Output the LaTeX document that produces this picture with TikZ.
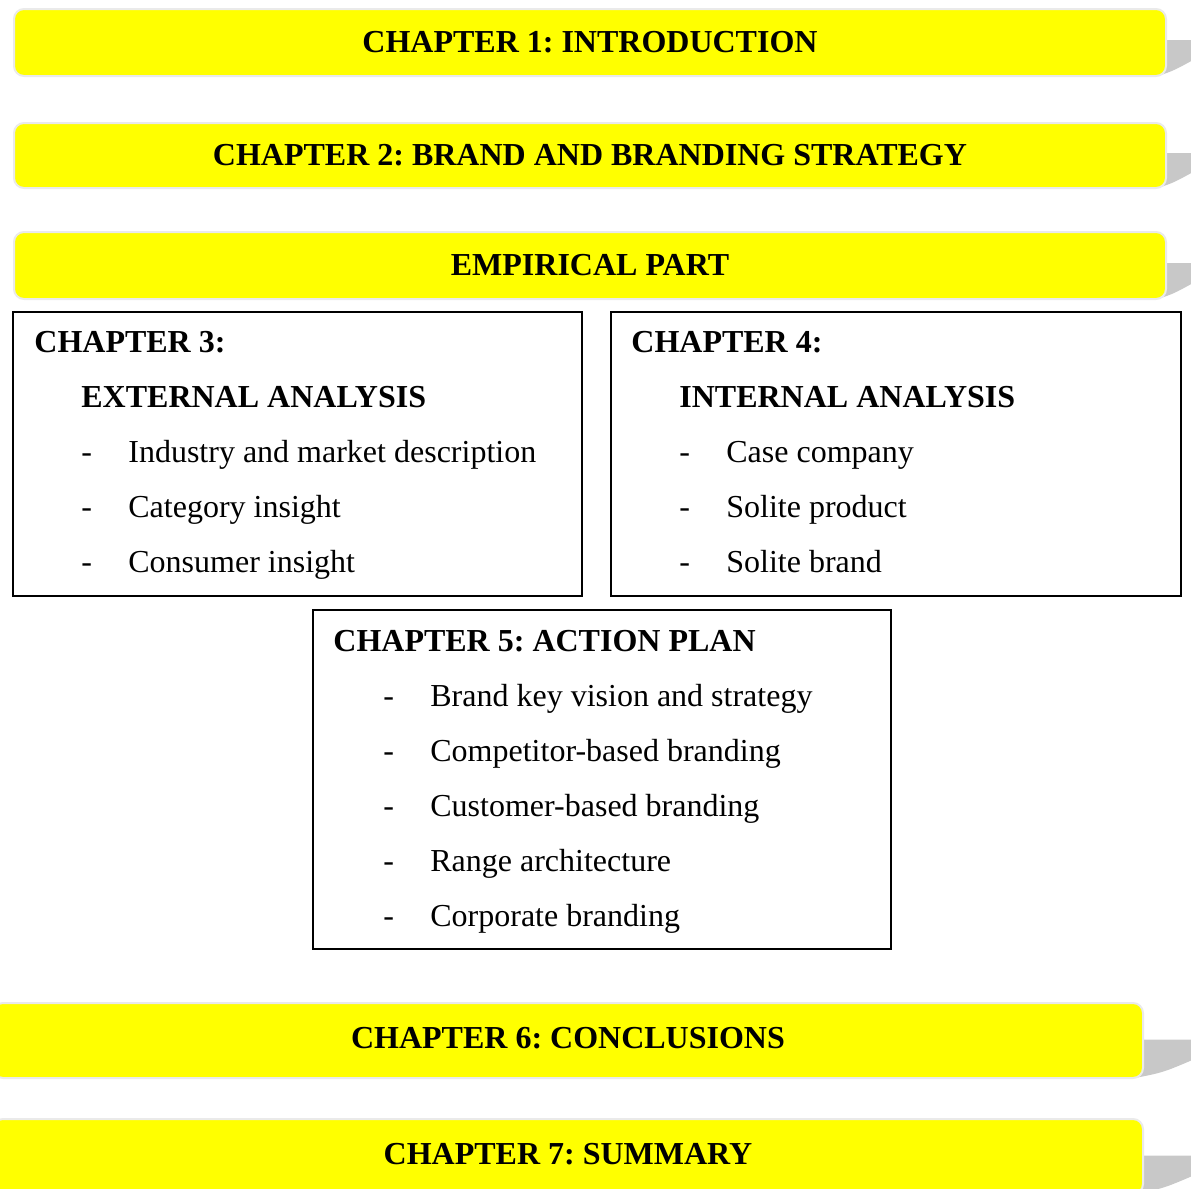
\documentclass[tikz,border=0pt]{standalone}
\usepackage{fontspec}
\setmainfont{Liberation Serif}
\usepackage{xcolor}
\usetikzlibrary{positioning, backgrounds}

\definecolor{bannerfill}{RGB}{255,255,0}
\definecolor{bannerrim}{RGB}{234,234,234}
\definecolor{curlgrey}{RGB}{200,200,200}

\frenchspacing

% dash bullet for the chapter contents
\newcommand{\dashitem}[1]{\makebox[23.5pt][l]{-}#1}

\begin{document}
\begin{tikzpicture}[
        x=0.5pt, y=-0.5pt,
        banner/.style={
            fill=bannerfill,
            draw=bannerrim,
            line width=1pt,
            rounded corners=5pt,
            minimum width=576pt,
            minimum height=33.5pt,
            inner sep=0pt,
            outer sep=0pt,
            font=\fontsize{16}{19}\selectfont\bfseries
        },
        chapbox/.style={
            draw=black,
            line width=1pt,
            inner sep=0pt,
            outer sep=0pt
        },
        chaptext/.style={
            anchor=north west,
            inner sep=0pt,
            align=left,
            font=\fontsize{16}{27.5}\selectfont
        },
        curl/.style={fill=curlgrey}
    ]
        \useasboundingbox (0,0) rectangle (1191,1189);

        \node[banner] (intro) at (590,42.5) {CHAPTER 1: INTRODUCTION};
        \node[banner, minimum height=32.5pt, below=23.5pt of intro] (brand) {CHAPTER 2: BRAND AND BRANDING STRATEGY};
        \node[banner, below=22pt of brand] (empirical) {EMPIRICAL PART};

        \node[chapbox, minimum width=284.5pt, minimum height=142pt, below right=6.5pt and -0.5pt of empirical.south west] (external) {};
        \node[chapbox, minimum width=285pt, minimum height=142pt, right=14.5pt of external] (internal) {};
        \node[chapbox, minimum width=289pt, minimum height=169.5pt, below right=7pt and 150pt of external.south west] (action) {};

        \node[chaptext, below right=9.3pt and 10.5pt of external.north west] (externalTxt) {%
            \textbf{CHAPTER 3:}\\
            \hspace*{23.5pt}\textbf{EXTERNAL ANALYSIS}\\
            \hspace*{23.5pt}\dashitem{Industry and market description}\\
            \hspace*{23.5pt}\dashitem{Category insight}\\
            \hspace*{23.5pt}\dashitem{Consumer insight}};
        \node[chaptext, below right=9.3pt and 10pt of internal.north west] (internalTxt) {%
            \textbf{CHAPTER 4:}\\
            \hspace*{24pt}\textbf{INTERNAL ANALYSIS}\\
            \hspace*{24pt}\dashitem{Case company}\\
            \hspace*{24pt}\dashitem{Solite product}\\
            \hspace*{24pt}\dashitem{Solite brand}};
        \node[chaptext, below right=9.8pt and 10pt of action.north west] (actionTxt) {%
            \textbf{CHAPTER 5: ACTION PLAN}\\
            \hspace*{25pt}\dashitem{Brand key vision and strategy}\\
            \hspace*{25pt}\dashitem{Competitor-based branding}\\
            \hspace*{25pt}\dashitem{Customer-based branding}\\
            \hspace*{25pt}\dashitem{Range architecture}\\
            \hspace*{25pt}\dashitem{Corporate branding}};

        \node[banner, minimum width=575pt, minimum height=37.5pt, text depth=3pt, below=27pt of action, xshift=-17pt] (concl) {CHAPTER 6: CONCLUSIONS};
        \node[banner, minimum width=575pt, minimum height=37.5pt, text depth=3pt, below=20.5pt of concl] (summary) {CHAPTER 7: SUMMARY};

        % curled shadows behind the right end of the banners
        \begin{scope}[on background layer]
            \fill[curl] ([xshift=-6pt,yshift=1.25pt]intro.east) -- ++(36pt,0) -- ([xshift=14pt,yshift=-8.5pt]intro.east) .. controls ([xshift=4pt,yshift=-14pt]intro.east) .. ([xshift=-4pt]intro.south east) -- cycle;
            \fill[curl] ([xshift=-6pt,yshift=1.25pt]brand.east) -- ++(36pt,0) -- ([xshift=14pt,yshift=-8pt]brand.east) .. controls ([xshift=4pt,yshift=-13.5pt]brand.east) .. ([xshift=-4pt]brand.south east) -- cycle;
            \fill[curl] ([xshift=-6pt,yshift=1.25pt]empirical.east) -- ++(36pt,0) -- ([xshift=14pt,yshift=-8.5pt]empirical.east) .. controls ([xshift=4pt,yshift=-14pt]empirical.east) .. ([xshift=-4pt]empirical.south east) -- cycle;
            \fill[curl] ([xshift=-6pt,yshift=0.5pt]concl.east) -- ++(40pt,0) -- ([xshift=26pt,yshift=-9.2pt]concl.east) .. controls ([xshift=10pt,yshift=-16pt]concl.east) .. ([xshift=-4pt]concl.south east) -- cycle;
            \fill[curl] ([xshift=-6pt,yshift=0.5pt]summary.east) -- ++(40pt,0) -- ([xshift=26pt,yshift=-9.2pt]summary.east) .. controls ([xshift=10pt,yshift=-16pt]summary.east) .. ([xshift=-4pt]summary.south east) -- cycle;
        \end{scope}

    \end{tikzpicture}
\end{document}
